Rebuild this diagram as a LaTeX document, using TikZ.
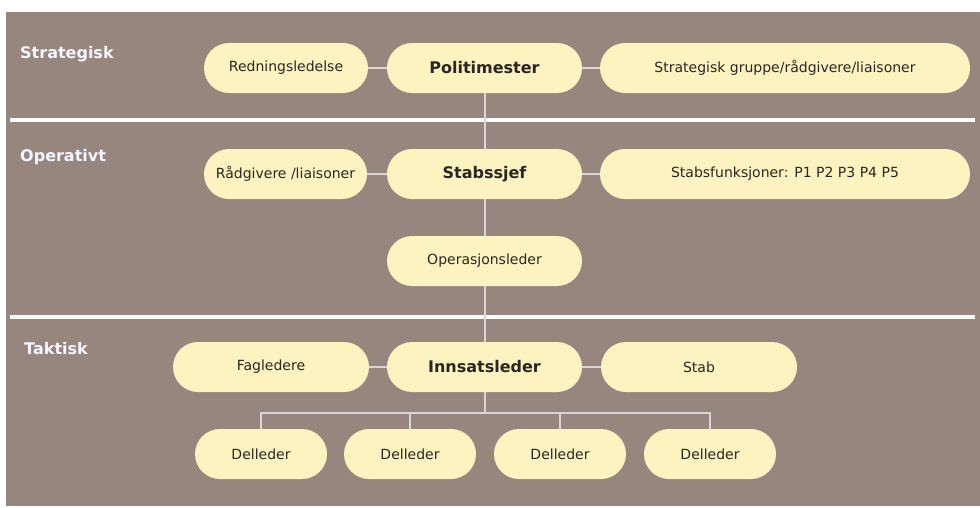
\documentclass[tikz,border=0pt]{standalone}
\usepackage{fontspec}
\setmainfont{DejaVu Sans}

\definecolor{bgbrown}{HTML}{96867E}
\definecolor{pillyellow}{HTML}{FDF3C0}
\definecolor{pilltext}{HTML}{2A2622}
\definecolor{linkgrey}{HTML}{D9D6D3}
\definecolor{labelwhite}{HTML}{F4F6FF}

\tikzset{
	pill/.style={rectangle, rounded corners=25pt, fill=pillyellow, text=pilltext,
		minimum height=50pt, inner sep=0pt, font=\fontsize{14}{16}\selectfont},
	chief/.style={pill, minimum width=195pt, font=\fontsize{16}{18}\selectfont\bfseries},
	level/.style={anchor=west, text=labelwhite, inner sep=0pt,
		font=\fontsize{16}{18}\selectfont\bfseries},
	link/.style={draw=linkgrey, line width=2pt},
	divider/.style={draw=white, line width=4pt}
}

\begin{document}
\begin{tikzpicture}[x=1pt, y=-1pt]
	\useasboundingbox (0,0) rectangle (980,507);
	\fill[bgbrown] (6,12) rectangle (980,506);
	
	% levels
	\node[level] (strat) at (20,54) {Strategisk};
	\node[level] (oper) at (20,157) {Operativt};
	\node[level] (takt) at (24,349) {Taktisk};
	
	\draw[divider] (10,120)--(975,120);
	\draw[divider] (10,317)--(975,317);
	
	% strategic
	\node[pill, minimum width=164pt] (red) at (286,68) {Redningsledelse};
	\node[chief] (pol) at (484.5,68) {Politimester};
	\node[pill, minimum width=370pt] (sgr) at (785,68) {Strategisk gruppe/rådgivere/liaisoner};
	
	% operative
	\node[pill, minimum width=163pt] (rad) at (285.5,174) {Rådgivere /liaisoner};
	\node[chief] (sjef) at (484.5,174) {Stabssjef};
	\node[pill, minimum width=370pt] (sfu) at (785,174) {Stabsfunksjoner: P1 P2 P3 P4 P5};
	\node[pill, minimum width=195pt] (ops) at (484.5,261) {Operasjonsleder};
	
	% tactical
	\node[pill, minimum width=196pt] (fag) at (271,367) {Fagledere};
	\node[chief] (inn) at (484.5,367) {Innsatsleder};
	\node[pill, minimum width=196pt] (stab) at (699,367) {Stab};
	
	\foreach \n/\x in {d1/261, d2/410, d3/560, d4/710}
		\node[pill, minimum width=132pt] (\n) at (\x,454) {Delleder};
	
	% connectors
	\draw[link] (red)--(pol);
	\draw[link] (pol)--(sgr);
	\draw[link] (rad)--(sjef);
	\draw[link] (sjef)--(sfu);
	\draw[link] (fag)--(inn);
	\draw[link] (inn)--(stab);
	
	\draw[link] (pol.south)--(sjef.north);
	\draw[link] (sjef.south)--(ops.north);
	\draw[link] (ops.south)--(inn.north);
	
	\draw[link] (inn.south)--++(0,21) coordinate (bus);
	\draw[link] (d1.north)--(d1.north |- bus)--(d4.north |- bus)--(d4.north);
	\foreach \n in {d2,d3}
		\draw[link] (\n.north)--(\n.north |- bus);
\end{tikzpicture}
\end{document}
